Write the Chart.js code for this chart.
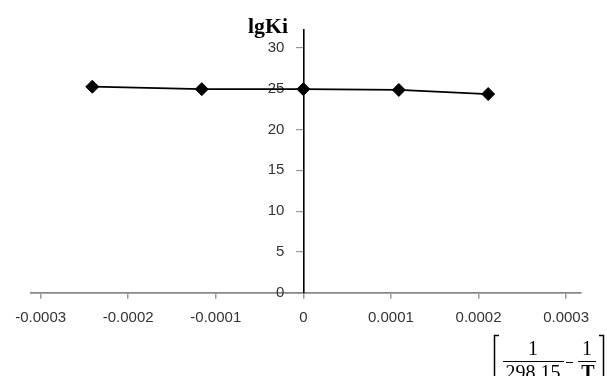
<!DOCTYPE html>
<html>
<head>
<meta charset="utf-8">
<script src="https://cdn.jsdelivr.net/npm/chart.js@4.4.1/dist/chart.umd.min.js"></script>
<style>
  html, body { margin: 0; padding: 0; background: #fff; }
  #wrap { position: relative; width: 607px; height: 376px; }
  canvas { display: block; }
</style>
</head>
<body>
<div id="wrap"><canvas id="c" width="607" height="376"></canvas></div>
<script>
// 1/298.15 - 1/T for each measured temperature
const invTempDiff = [-0.000241, -0.000116, 0, 0.000109, 0.000211];
// lg Ki at each temperature
const lgKi = [25.25, 24.95, 24.95, 24.85, 24.35];
// axis tick values
const xTicks = [-0.0003, -0.0002, -0.0001, 0, 0.0001, 0.0002, 0.0003];
const yTicks = [0, 5, 10, 15, 20, 25, 30];

const points = invTempDiff.map((x, i) => ({ x: x, y: lgKi[i] }));
const tickFont = { family: '"Liberation Sans", Arial, sans-serif', size: 15 };
const tickColor = '#333';

// gap between the centred y axis and its labels
const Y_LABEL_GAP = 19;

// axis title and the bracketed expression under the x axis
const annotations = {
  id: 'annotations',
  afterDraw(chart) {
    const ctx = chart.ctx;
    ctx.save();
    ctx.fillStyle = '#000';
    ctx.strokeStyle = '#000';
    ctx.textBaseline = 'alphabetic';

    ctx.save();
    ctx.font = 'bold 20px "Liberation Serif", "Times New Roman", serif';
    ctx.textAlign = 'left';
    ctx.translate(248, 33);
    ctx.scale(1.09, 1);
    ctx.fillText('lgKi', 0, 0);
    ctx.restore();

    ctx.font = '20px "Liberation Serif", "Times New Roman", serif';
    ctx.textAlign = 'center';
    ctx.fillText('1', 533, 355);
    ctx.fillText('298.15', 533, 378.5);
    ctx.fillText('1', 587, 355);
    ctx.font = 'bold 20px "Liberation Serif", "Times New Roman", serif';
    ctx.fillText('T', 588, 378.5);

    ctx.lineWidth = 1;
    ctx.beginPath();
    // fraction bars and minus sign
    ctx.moveTo(503, 361.5); ctx.lineTo(564, 361.5);
    ctx.moveTo(578, 361.5); ctx.lineTo(596, 361.5);
    ctx.moveTo(566, 362.5); ctx.lineTo(573, 362.5);
    ctx.stroke();
    // square brackets
    ctx.lineWidth = 1.5;
    ctx.beginPath();
    ctx.moveTo(499, 335.5); ctx.lineTo(494.5, 335.5); ctx.lineTo(494.5, 380);
    ctx.moveTo(599, 335.5); ctx.lineTo(603.5, 335.5); ctx.lineTo(603.5, 380);
    ctx.stroke();
    ctx.restore();
  }
};

new Chart(document.getElementById('c'), {
  type: 'scatter',
  data: {
    datasets: [{
      data: points,
      showLine: true,
      borderColor: '#000',
      borderWidth: 1.8,
      backgroundColor: '#000',
      pointStyle: 'rectRot',
      pointRadius: 6.5,
      pointBorderWidth: 1,
      pointBorderColor: '#000',
      tension: 0
    }]
  },
  options: {
    responsive: false,
    animation: false,
    layout: { padding: { left: 31, right: 26, top: 30, bottom: 83.3 } },
    plugins: { legend: { display: false }, tooltip: { enabled: false } },
    scales: {
      x: {
        type: 'linear',
        position: { y: 0 },
        min: -0.000311,
        max: 0.000317,
        afterBuildTicks: s => { s.ticks = xTicks.map(v => ({ value: v })); },
        afterFit: s => { s.height = 0; },
        border: { display: true, color: '#888', width: 1.8 },
        grid: { drawOnChartArea: false, drawTicks: true, tickLength: 5, color: '#999', lineWidth: 1.5 },
        ticks: {
          autoSkip: false, maxRotation: 0, padding: 11,
          color: tickColor, font: tickFont,
          callback: v => Number(v.toFixed(4)).toString()
        }
      },
      y: {
        type: 'linear',
        position: { x: 0 },
        min: 0,
        max: 32.2,
        afterBuildTicks: s => { s.ticks = yTicks.map(v => ({ value: v })); },
        afterFit: s => {
          s.width = 0;
          // labels of a centred axis sit on the axis line; move them left of the tick marks
          if (!s._labelShift) {
            const drawLabels = s.drawLabels;
            s.drawLabels = function (area) {
              this.ctx.save();
              this.ctx.translate(-Y_LABEL_GAP, 0);
              drawLabels.call(this, area);
              this.ctx.restore();
            };
            s._labelShift = true;
          }
        },
        border: { display: true, color: '#000', width: 1.6 },
        grid: { drawOnChartArea: false, drawTicks: true, tickLength: 7, color: '#999', lineWidth: 1.2 },
        ticks: {
          autoSkip: false, padding: 0,
          color: tickColor, font: tickFont,
          callback: v => String(v)
        }
      }
    }
  },
  plugins: [annotations]
});
</script>
</body>
</html>
